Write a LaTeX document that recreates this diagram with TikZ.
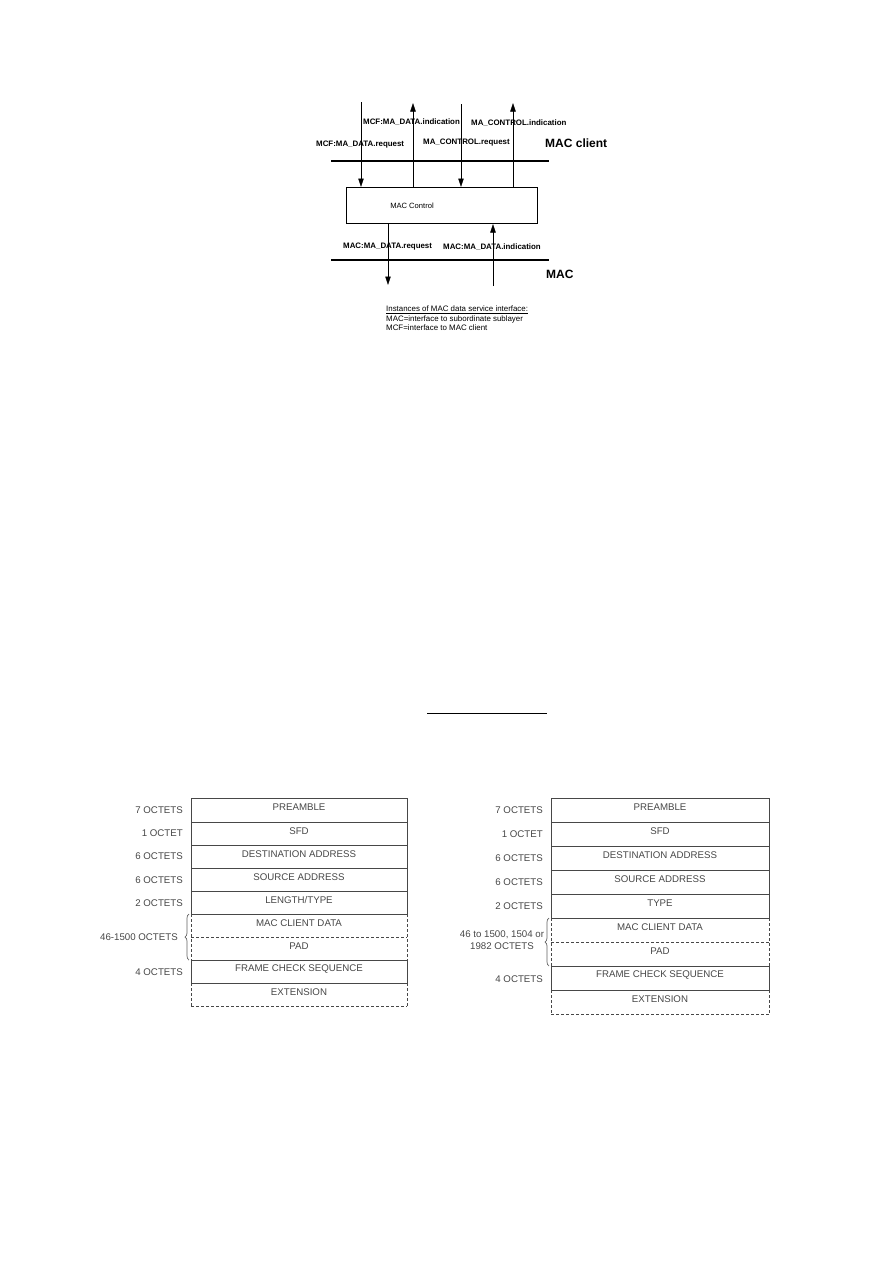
\documentclass[tikz,border=0pt]{standalone}
\usepackage{fontspec}
\setmainfont{Liberation Sans}
\usetikzlibrary{arrows.meta,decorations.pathreplacing}
\begin{document}
\begin{tikzpicture}[x=1pt,y=-1pt,
  lbl/.style={font=\fontsize{7.9}{9}\selectfont\bfseries, anchor=west, inner sep=0pt},
  big/.style={font=\fontsize{12}{14}\selectfont\bfseries, anchor=west, inner sep=0pt},
  arr/.style={line width=0.5pt, -{Triangle[length=8.5pt,width=5.5pt]}},
  bar/.style={line width=2.6pt},
  ftxt/.style={font=\fontsize{9.7}{11.5}\selectfont, text=black!72, inner sep=0pt},
  flab/.style={font=\fontsize{9.7}{11.5}\selectfont, text=black!72, inner sep=0pt, anchor=east},
  fline/.style={draw=black!72, line width=0.9pt},
  fdash/.style={draw=black!72, line width=0.9pt, dash pattern=on 3pt off 2pt},
  brc/.style={draw=black!62, line width=0.7pt, decorate, decoration={brace, amplitude=4pt}},
]
\useasboundingbox (0,0) rectangle (893,1263);

% ---------------- top diagram ----------------
\node[draw, line width=1pt, minimum width=191pt, minimum height=36pt, inner sep=0pt, anchor=north west] (ctrl) at (346,187) {};
\node[font=\fontsize{7.6}{9}\selectfont] (ctrltxt) at (412,206) {MAC Control};

\draw[bar] (331,161) -- (549,161);
\draw[bar] (331,260) -- (549,260);

\node[big] (macclient) at (545,143) {MAC client};
\node[big] (mac) at (546,274) {MAC};

\coordinate (r1) at (361,102);
\coordinate (i1) at (413,103);
\coordinate (r2) at (461,104);
\coordinate (i2) at (513,103);
\coordinate (r3) at (388,285);
\coordinate (i3) at (493,286);

\draw[arr] (r1) -- (r1 |- ctrl.north);
\draw[arr] (i1 |- ctrl.north) -- (i1);
\draw[arr] (r2) -- (r2 |- ctrl.north);
\draw[arr] (i2 |- ctrl.north) -- (i2);
\draw[arr] (r3 |- ctrl.south) -- (r3);
\draw[arr] (i3) -- (i3 |- ctrl.south);

\node[lbl] (l1) at (363,122) {MCF:MA\_DATA.indication};
\node[lbl] (l2) at (471,123) {MA\_CONTROL.indication};
\node[lbl] (l3) at (316,145) {MCF:MA\_DATA.request};
\node[lbl] (l4) at (423,143) {MA\_CONTROL.request};
\node[lbl] (l5) at (343,247) {MAC:MA\_DATA.request};
\node[lbl] (l6) at (443,247) {MAC:MA\_DATA.indication};

\node[font=\fontsize{7.9}{9.2}\selectfont, anchor=north west, inner sep=0pt, align=left] (inst) at (386,306)
  {\underline{Instances of MAC data service interface:}\\MAC=interface to subordinate sublayer\\MCF=interface to MAC client};

% ---------------- separator line ----------------
\draw[line width=1pt] (427,713) -- (547,713);

% ---------------- left frame ----------------
\def\xa{191}\def\xb{407}
\foreach \y in {798,822,845,868,891,914,960,983} \draw[fline] (\xa,\y) -- (\xb,\y);
\foreach \y in {937,1006} \draw[fdash] (\xa,\y) -- (\xb,\y);
\draw[fline] (\xa,798) -- (\xa,914) (\xb,798) -- (\xb,914);
\draw[fline] (\xa,960) -- (\xa,983) (\xb,960) -- (\xb,983);
\draw[fdash] (\xa,914) -- (\xa,960) (\xb,914) -- (\xb,960);
\draw[fdash] (\xa,983) -- (\xa,1006) (\xb,983) -- (\xb,1006);

\node[ftxt] (a1) at (299,807) {PREAMBLE};
\node[ftxt] (a2) at (299,831) {SFD};
\node[ftxt] (a3) at (299,854) {DESTINATION ADDRESS};
\node[ftxt] (a4) at (299,877) {SOURCE ADDRESS};
\node[ftxt] (a5) at (299,900) {LENGTH/TYPE};
\node[ftxt] (a6) at (299,923) {MAC CLIENT DATA};
\node[ftxt] (a7) at (299,946) {PAD};
\node[ftxt] (a8) at (299,969) {FRAME CHECK SEQUENCE};
\node[ftxt] (a9) at (299,992) {EXTENSION};

\node[flab] (al1) at (183,810) {7 OCTETS};
\node[flab] (al2) at (183,833) {1 OCTET};
\node[flab] (al3) at (183,856) {6 OCTETS};
\node[flab] (al4) at (183,880) {6 OCTETS};
\node[flab] (al5) at (183,903) {2 OCTETS};
\node[flab] (al6) at (178,937) {46-1500 OCTETS};
\node[flab] (al7) at (183,972) {4 OCTETS};
\draw[brc] (189,960) -- (189,914);

% ---------------- right frame ----------------
\def\xc{551}\def\xd{769}
\foreach \y in {798,822,846,870,894,918,966,990} \draw[fline] (\xc,\y) -- (\xd,\y);
\foreach \y in {942,1014} \draw[fdash] (\xc,\y) -- (\xd,\y);
\draw[fline] (\xc,798) -- (\xc,918) (\xd,798) -- (\xd,918);
\draw[fline] (\xc,966) -- (\xc,990) (\xd,966) -- (\xd,990);
\draw[fdash] (\xc,918) -- (\xc,966) (\xd,918) -- (\xd,966);
\draw[fdash] (\xc,990) -- (\xc,1014) (\xd,990) -- (\xd,1014);

\node[ftxt] (b1) at (660,807) {PREAMBLE};
\node[ftxt] (b2) at (660,831) {SFD};
\node[ftxt] (b3) at (660,855) {DESTINATION ADDRESS};
\node[ftxt] (b4) at (660,879) {SOURCE ADDRESS};
\node[ftxt] (b5) at (660,903) {TYPE};
\node[ftxt] (b6) at (660,927) {MAC CLIENT DATA};
\node[ftxt] (b7) at (660,951) {PAD};
\node[ftxt] (b8) at (660,975) {FRAME CHECK SEQUENCE};
\node[ftxt] (b9) at (660,999) {EXTENSION};

\node[flab] (bl1) at (543,810) {7 OCTETS};
\node[flab] (bl2) at (543,834) {1 OCTET};
\node[flab] (bl3) at (543,858) {6 OCTETS};
\node[flab] (bl4) at (543,882) {6 OCTETS};
\node[flab] (bl5) at (543,906) {2 OCTETS};
\node[ftxt, align=center] (bl6) at (502,940) {46 to 1500, 1504 or\\1982 OCTETS};
\node[flab] (bl7) at (543,979) {4 OCTETS};
\draw[brc] (549,966) -- (549,918);
\end{tikzpicture}
\end{document}
